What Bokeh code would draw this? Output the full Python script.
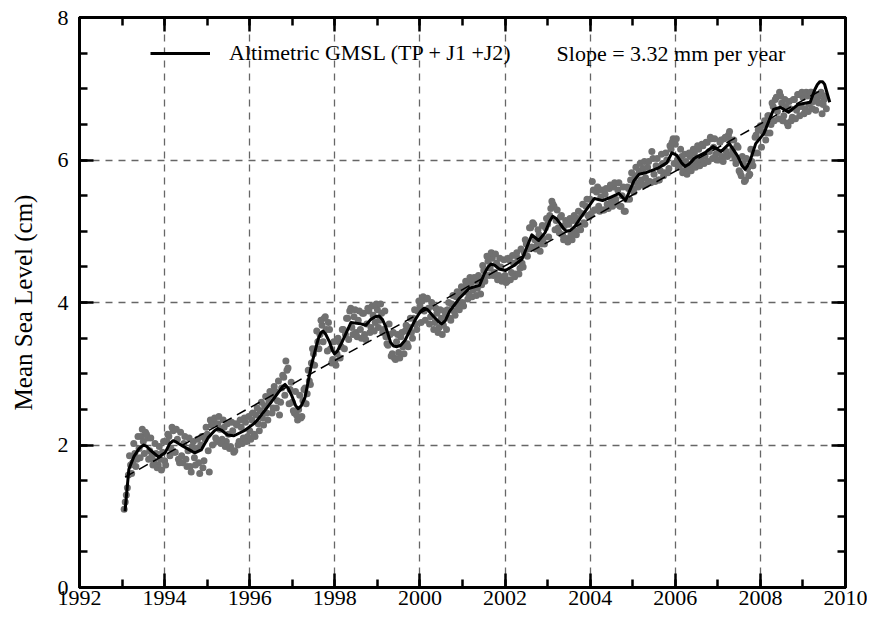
import numpy as np
from bokeh.plotting import figure
from bokeh.models import (ColumnDataSource, LinearAxis, SingleIntervalTicker, Range1d,
                          Legend, LegendItem, Label)
from bokeh.embed import file_html
from bokeh.resources import INLINE

FONT = "Liberation Serif"

# ---------------- data ----------------
x_ticks = [1992, 1994, 1996, 1998, 2000, 2002, 2004, 2006, 2008, 2010]
y_ticks = [0, 2, 4, 6, 8]

# smoothed GMSL curve (year, cm)
curve_year = [1993.07, 1993.16, 1993.28, 1993.40, 1993.46, 1993.51, 1993.58, 1993.66, 1993.86, 1994.01,
              1994.12, 1994.20, 1994.28, 1994.44, 1994.71, 1994.86, 1995.02, 1995.17, 1995.25, 1995.33,
              1995.48, 1995.63, 1995.87, 1996.10, 1996.18, 1996.48, 1996.70, 1996.77, 1996.83, 1996.90,
              1996.99, 1997.08, 1997.14, 1997.21, 1997.30, 1997.45, 1997.61, 1997.67, 1997.72, 1997.79,
              1997.88, 1997.94, 1997.99, 1998.05, 1998.15, 1998.38, 1998.61, 1998.73, 1998.84, 1998.95,
              1999.04, 1999.12, 1999.19, 1999.31, 1999.38, 1999.46, 1999.55, 1999.65, 1999.89, 2000.02,
              2000.10, 2000.18, 2000.31, 2000.44, 2000.51, 2000.59, 2000.70, 2000.93, 2001.16, 2001.40,
              2001.51, 2001.60, 2001.67, 2001.76, 2001.86, 2002.01, 2002.21, 2002.40, 2002.63, 2002.79,
              2002.94, 2003.05, 2003.12, 2003.20, 2003.29, 2003.37, 2003.44, 2003.53, 2003.64, 2003.87,
              2004.10, 2004.29, 2004.49, 2004.68, 2004.83, 2005.03, 2005.15, 2005.30, 2005.61, 2005.80,
              2005.92, 2006.03, 2006.15, 2006.23, 2006.32, 2006.46, 2006.69, 2006.89, 2007.08, 2007.27,
              2007.47, 2007.57, 2007.64, 2007.70, 2007.77, 2007.89, 2008.08, 2008.31, 2008.47, 2008.66,
              2008.89, 2009.17, 2009.28, 2009.34, 2009.40, 2009.46, 2009.51, 2009.63]
curve_cm = [1.07, 1.66, 1.84, 1.95, 1.98, 2.00, 1.98, 1.93, 1.83, 1.89,
            2.02, 2.06, 2.04, 1.98, 1.89, 1.93, 2.10, 2.20, 2.23, 2.21,
            2.14, 2.13, 2.20, 2.30, 2.35, 2.58, 2.76, 2.82, 2.85, 2.80,
            2.69, 2.55, 2.51, 2.55, 2.67, 3.12, 3.49, 3.57, 3.60, 3.55,
            3.44, 3.33, 3.28, 3.31, 3.42, 3.72, 3.70, 3.68, 3.76, 3.80,
            3.81, 3.76, 3.67, 3.44, 3.39, 3.38, 3.40, 3.47, 3.76, 3.88,
            3.92, 3.90, 3.81, 3.73, 3.70, 3.74, 3.88, 4.06, 4.20, 4.24,
            4.40, 4.50, 4.54, 4.52, 4.47, 4.45, 4.52, 4.61, 4.95, 4.87,
            4.98, 5.14, 5.21, 5.18, 5.11, 5.04, 5.00, 5.01, 5.07, 5.27,
            5.46, 5.43, 5.48, 5.53, 5.43, 5.71, 5.80, 5.82, 5.89, 5.96,
            6.10, 6.07, 5.96, 5.91, 5.94, 6.03, 6.10, 6.19, 6.12, 6.23,
            6.05, 5.92, 5.87, 5.92, 6.01, 6.23, 6.37, 6.71, 6.74, 6.67,
            6.78, 6.81, 6.99, 7.06, 7.10, 7.10, 7.06, 6.81]

# 10-day altimetry values (cm), sampled every 0.05 yr (set A from 1993.05, set B from 1993.075)
dot_step = 0.05
dot_start_a = 1993.05
dot_cm_a = [
    1.10, 1.30, 1.58, 1.72, 1.75, 1.88, 1.80, 1.95, 2.12, 2.05, 2.18, 2.10, 1.92, 1.85, 1.78, 1.88, 1.72, 1.80, 1.90,        # 1993
    1.78, 2.05, 2.12, 1.95, 2.20, 1.90, 2.08, 1.75, 1.85, 2.02, 1.80, 1.92, 1.70, 1.98, 1.82, 1.95, 1.75, 2.00, 1.68, 2.08,  # 1994
    2.15, 1.62, 2.28, 2.32, 2.10, 2.30, 2.22, 2.08, 2.25, 2.05, 2.15, 1.98, 2.20, 1.92, 2.28, 2.05, 2.25, 2.10, 2.32, 2.12,  # 1995
    2.20, 2.35, 2.15, 2.42, 2.30, 2.48, 2.38, 2.55, 2.45, 2.62, 2.70, 2.52, 2.75, 2.62, 2.42, 2.80, 2.95, 3.18, 3.08, 2.78,  # 1996
    2.60, 2.45, 2.42, 2.50, 2.38, 2.62, 2.80, 2.72, 2.90, 3.15, 3.28, 3.35, 3.45, 3.55, 3.68, 3.78, 3.62, 3.72, 3.35, 3.20,  # 1997
    3.18, 3.28, 3.45, 3.38, 3.62, 3.55, 3.78, 3.88, 3.65, 3.80, 3.58, 3.75, 3.62, 3.85, 3.55, 3.70, 3.88, 3.65, 3.82, 3.72,  # 1998
    3.90, 3.75, 3.85, 3.62, 3.52, 3.40, 3.55, 3.28, 3.22, 3.45, 3.30, 3.52, 3.38, 3.60, 3.42, 3.65, 3.58, 3.78, 3.70, 3.88,  # 1999
    3.95, 4.02, 3.88, 4.05, 3.92, 3.80, 3.95, 3.72, 3.85, 3.65, 3.78, 3.68, 3.82, 3.90, 3.78, 3.98, 3.88, 4.08, 3.95, 4.12,  # 2000
    4.00, 4.15, 4.22, 4.12, 4.28, 4.18, 4.30, 4.20, 4.32, 4.25, 4.45, 4.38, 4.58, 4.48, 4.62, 4.42, 4.55, 4.38, 4.50, 4.35,  # 2001
    4.38, 4.30, 4.60, 4.42, 4.55, 4.40, 4.62, 4.48, 4.55, 4.70, 4.82, 4.75, 5.05, 5.12, 4.88, 4.80, 4.95, 4.82, 4.90, 5.05,  # 2002
    5.10, 5.22, 5.42, 5.35, 5.15, 5.05, 5.20, 4.95, 5.08, 4.90, 5.10, 4.95, 5.15, 5.00, 5.18, 5.08, 5.25, 5.12, 5.35, 5.22,  # 2003
    5.45, 5.70, 5.30, 5.55, 5.35, 5.48, 5.30, 5.52, 5.38, 5.60, 5.42, 5.62, 5.45, 5.58, 5.35, 5.50, 5.28, 5.45, 5.60, 5.72,  # 2004
    5.60, 5.78, 5.68, 5.85, 5.72, 5.88, 5.75, 5.90, 5.70, 6.12, 5.80, 5.92, 5.72, 5.85, 5.95, 5.82, 6.00, 5.88, 6.15, 6.30,  # 2005
    6.22, 6.00, 5.92, 6.05, 5.85, 5.98, 5.88, 6.05, 5.92, 6.10, 5.98, 6.15, 6.00, 6.20, 6.05, 6.25, 6.12, 6.30, 6.18, 6.08,  # 2006
    6.10, 6.25, 6.05, 6.30, 6.12, 6.35, 6.28, 6.15, 6.02, 6.20, 5.85, 5.78, 5.95, 5.72, 5.88, 5.80, 5.98, 6.10, 6.35, 6.42,  # 2007
    6.48, 6.40, 6.55, 6.38, 6.62, 6.50, 6.75, 6.85, 6.68, 6.95, 6.80, 6.62, 6.75, 6.48, 6.72, 6.60, 6.85, 6.70, 6.92, 6.75,  # 2008
    6.88, 6.72, 6.90, 6.78, 6.95, 6.82, 6.70, 6.88, 6.92, 6.65, 6.85, 6.72,                                                  # 2009
]
dot_start_b = 1993.075
dot_cm_b = [
    1.20, 1.40, 1.85, 1.60, 2.02, 1.70, 2.12, 1.82, 2.22, 1.88, 2.15, 1.80, 2.10, 1.72, 2.02, 1.68, 1.98, 1.65, 2.05,        # 1993
    1.72, 2.15, 1.85, 2.25, 1.90, 2.22, 1.80, 2.18, 1.75, 2.12, 1.70, 2.10, 1.62, 2.05, 1.72, 2.08, 1.60, 2.12, 1.78, 2.25,  # 1994
    1.92, 2.35, 2.00, 2.38, 2.05, 2.40, 2.02, 2.35, 1.98, 2.30, 1.95, 2.32, 1.90, 2.30, 2.00, 2.35, 2.02, 2.38, 2.05, 2.40,  # 1995
    2.08, 2.45, 2.12, 2.52, 2.20, 2.60, 2.28, 2.68, 2.35, 2.75, 2.45, 2.82, 2.52, 2.90, 2.60, 2.98, 2.70, 3.05, 2.58, 2.88,  # 1996
    2.48, 2.75, 2.35, 2.70, 2.40, 2.78, 2.58, 3.05, 2.85, 3.35, 3.12, 3.60, 3.35, 3.75, 3.45, 3.80, 3.32, 3.62, 3.15, 3.45,  # 1997
    3.12, 3.50, 3.22, 3.62, 3.35, 3.78, 3.48, 3.92, 3.55, 3.90, 3.52, 3.88, 3.50, 3.85, 3.48, 3.92, 3.58, 3.95, 3.60, 3.98,  # 1998
    3.65, 3.98, 3.58, 3.88, 3.42, 3.70, 3.25, 3.58, 3.20, 3.55, 3.22, 3.58, 3.28, 3.68, 3.38, 3.78, 3.50, 3.90, 3.62, 4.02,  # 1999
    3.72, 4.08, 3.75, 4.06, 3.70, 4.00, 3.62, 3.92, 3.58, 3.90, 3.55, 3.88, 3.62, 4.00, 3.75, 4.10, 3.82, 4.15, 3.90, 4.22,  # 2000
    3.95, 4.30, 4.05, 4.35, 4.08, 4.35, 4.10, 4.38, 4.12, 4.52, 4.30, 4.65, 4.38, 4.70, 4.38, 4.68, 4.32, 4.62, 4.30, 4.60,  # 2001
    4.28, 4.62, 4.32, 4.66, 4.36, 4.70, 4.40, 4.75, 4.50, 4.88, 4.65, 5.05, 4.78, 5.10, 4.75, 5.02, 4.72, 5.08, 4.82, 5.18,  # 2002
    4.92, 5.32, 5.38, 5.02, 5.30, 4.98, 5.22, 4.88, 5.15, 4.85, 5.18, 4.88, 5.22, 4.95, 5.28, 5.02, 5.38, 5.10, 5.45, 5.20,  # 2003
    5.25, 5.58, 5.30, 5.62, 5.28, 5.58, 5.30, 5.60, 5.32, 5.65, 5.35, 5.68, 5.38, 5.68, 5.35, 5.62, 5.28, 5.62, 5.45, 5.82,  # 2004
    5.55, 5.90, 5.62, 5.95, 5.65, 5.98, 5.66, 5.98, 5.68, 6.02, 5.70, 6.02, 5.72, 6.08, 5.78, 6.10, 5.82, 6.20, 6.25, 5.95,  # 2005
    6.30, 5.90, 6.15, 5.82, 6.08, 5.80, 6.10, 5.85, 6.15, 5.90, 6.20, 5.92, 6.22, 5.95, 6.25, 5.98, 6.32, 6.02, 6.30, 6.00,  # 2006
    6.00, 6.28, 5.98, 6.32, 6.05, 6.40, 6.08, 6.28, 5.95, 6.18, 5.82, 6.05, 5.70, 6.02, 5.78, 6.15, 5.92, 6.32, 6.10, 6.45,  # 2007
    6.18, 6.50, 6.28, 6.62, 6.38, 6.80, 6.55, 6.88, 6.58, 6.90, 6.55, 6.85, 6.52, 6.82, 6.55, 6.85, 6.58, 6.92, 6.62, 6.95,  # 2008
    6.65, 6.95, 6.68, 6.95, 6.72, 6.85, 6.92, 6.80, 6.95, 6.78, 6.90,                                                        # 2009
]

# linear trend (3.32 mm per year)
trend_year = [1993.07, 2009.55]
trend_cm = [1.55, 7.02]

legend_text = "Altimetric GMSL (TP + J1 +J2)"
slope_text = "Slope = 3.32 mm per year"
y_label = "Mean Sea Level (cm)"

# ---------------- figure ----------------
dot_year = np.concatenate([dot_start_a + dot_step * np.arange(len(dot_cm_a)),
                           dot_start_b + dot_step * np.arange(len(dot_cm_b))])
dots = ColumnDataSource(dict(x=dot_year, y=np.concatenate([dot_cm_a, dot_cm_b])))

p = figure(width=867, height=617, x_range=Range1d(1992, 2010), y_range=Range1d(0, 8),
           output_backend="svg", toolbar_location=None,
           min_border_left=79, min_border_top=17, min_border_right=22, min_border_bottom=30)
p.background_fill_color = "white"
p.border_fill_color = "white"
p.outline_line_color = "black"
p.outline_line_width = 3

xticker = SingleIntervalTicker(interval=2, num_minor_ticks=2)
yticker = SingleIntervalTicker(interval=2, num_minor_ticks=4)

bottom = p.below[0]
left = p.left[0]
top = LinearAxis(ticker=SingleIntervalTicker(interval=2, num_minor_ticks=2))
right = LinearAxis(ticker=SingleIntervalTicker(interval=2, num_minor_ticks=4))
p.add_layout(top, "above")
p.add_layout(right, "right")
bottom.ticker = xticker
left.ticker = yticker


def style_axis(ax, labels):
    ax.axis_line_width = 3
    ax.axis_line_color = "black"
    ax.major_tick_in = 14
    ax.major_tick_out = 0
    ax.minor_tick_in = 8
    ax.minor_tick_out = 0
    ax.major_tick_line_width = 2.5
    ax.minor_tick_line_width = 2.5
    ax.major_tick_line_color = "black"
    ax.minor_tick_line_color = "black"
    ax.major_label_text_font = FONT
    ax.major_label_text_color = "black"
    if labels:
        ax.major_label_text_font_size = "22px"
    else:
        ax.major_label_text_font_size = "0px"
        ax.major_label_standoff = 0


style_axis(bottom, True)
style_axis(left, True)
style_axis(top, False)
style_axis(right, False)
top.major_label_overrides = {t: "" for t in x_ticks}
right.major_label_overrides = {t: "" for t in y_ticks}
bottom.major_label_standoff = 3
left.major_label_standoff = 11
left.axis_label = y_label
left.axis_label_text_font = FONT
left.axis_label_text_font_size = "25px"
left.axis_label_text_font_style = "normal"
left.axis_label_text_color = "black"
left.axis_label_standoff = 18

for g, t in ((p.xgrid[0], xticker), (p.ygrid[0], yticker)):
    g.ticker = t
    g.grid_line_color = "#666666"
    g.grid_line_width = 1.3
    g.grid_line_dash = "7 6"

p.scatter("x", "y", source=dots, size=7, fill_color="#707070", line_color=None)
p.line(trend_year, trend_cm, line_color="black", line_width=1.5, line_dash="10 6")
r_curve = p.line(curve_year, curve_cm, line_color="black", line_width=3, line_join="round")

legend = Legend(items=[LegendItem(label=legend_text, renderers=[r_curve])],
                location=(71, 521))
legend.glyph_width = 60
legend.glyph_height = 20
legend.label_standoff = 19
legend.padding = 0
legend.margin = 0
legend.spacing = 0
legend.border_line_color = None
legend.background_fill_alpha = 0
legend.label_text_font = FONT
legend.label_text_font_size = "22px"
legend.label_text_color = "black"
p.add_layout(legend)

p.add_layout(Label(x=2003.21, y=7.49, text=slope_text, text_font=FONT, text_font_size="22px",
                   text_color="black", text_baseline="middle", text_align="left"))

open("out.html", "w").write(file_html(p, INLINE))
